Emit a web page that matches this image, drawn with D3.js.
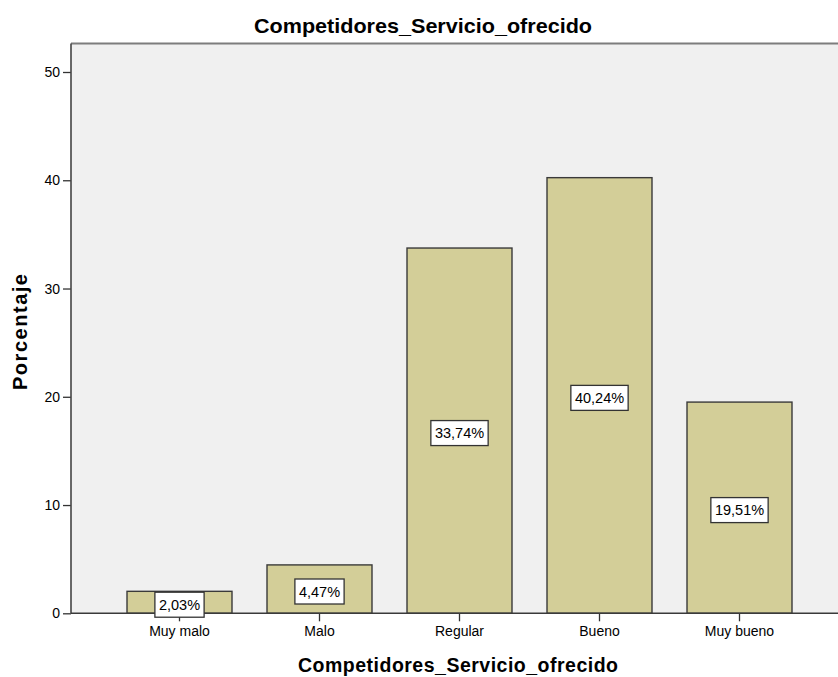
<!DOCTYPE html>
<html>
<head>
<meta charset="utf-8">
<script src="https://cdn.jsdelivr.net/npm/d3@7"></script>
<style>
  html, body { margin: 0; padding: 0; background: #ffffff; }
  svg { display: block; }
  text { font-family: "Liberation Sans", Arial, sans-serif; fill: #000; }
</style>
</head>
<body>
<div id="chart"></div>
<script>
// Distribution of responses (percent of respondents)
const categories = ["Muy malo", "Malo", "Regular", "Bueno", "Muy bueno"];
const percentages = [2.03, 4.47, 33.74, 40.24, 19.51];
const yTicks = [0, 10, 20, 30, 40, 50];
const chartTitle = "Competidores_Servicio_ofrecido";
const xTitle = "Competidores_Servicio_ofrecido";
const yTitle = "Porcentaje";

const W = 838, H = 677;
const plot = { left: 71, top: 43.5, right: 838, bottom: 613.3 };

const svg = d3.select("#chart").append("svg")
  .attr("width", W).attr("height", H);

const x = d3.scaleBand()
  .domain(categories)
  .range([plot.left, 848])
  .paddingInner(0.25)
  .paddingOuter(0.4);

const y = d3.scaleLinear()
  .domain([0, 50])
  .range([plot.bottom, 72]);

const fmt = v => v.toFixed(2).replace(".", ",") + "%";

// plot background
svg.append("rect")
  .attr("x", plot.left).attr("y", plot.top)
  .attr("width", plot.right - plot.left)
  .attr("height", plot.bottom - plot.top)
  .attr("fill", "#f0f0f0");

// top frame line
svg.append("line")
  .attr("x1", plot.left).attr("x2", plot.right)
  .attr("y1", plot.top).attr("y2", plot.top)
  .attr("stroke", "#7d7d7d").attr("stroke-width", 2);

// bars
const clip = svg.append("clipPath").attr("id", "plotclip")
  .append("rect")
  .attr("x", plot.left).attr("y", 0)
  .attr("width", plot.right - plot.left).attr("height", plot.bottom + 2);

const barG = svg.append("g").attr("clip-path", "url(#plotclip)");
barG.selectAll("rect.bar")
  .data(percentages)
  .join("rect")
  .attr("class", "bar")
  .attr("x", (d, i) => x(categories[i]))
  .attr("y", d => y(d))
  .attr("width", x.bandwidth())
  .attr("height", d => y(0) - y(d))
  .attr("fill", "#d3ce98")
  .attr("stroke", "#3a3a3a")
  .attr("stroke-width", 1.4);

// y axis
const yAxis = svg.append("g")
  .attr("transform", `translate(${plot.left},0)`)
  .call(d3.axisLeft(y).tickValues(yTicks).tickSize(8).tickPadding(3).tickFormat(d3.format("d")));
yAxis.select(".domain").remove();
yAxis.selectAll(".tick line").attr("stroke", "#333").attr("stroke-width", 1.3);
yAxis.selectAll(".tick text")
  .style("font-size", "14px")
  .style("font-family", "'Liberation Sans', Arial, sans-serif")
  .attr("fill", "#000");
svg.append("line")
  .attr("x1", plot.left).attr("x2", plot.left)
  .attr("y1", plot.top).attr("y2", plot.bottom)
  .attr("stroke", "#444").attr("stroke-width", 1.6);

// x axis
const xAxis = svg.append("g")
  .attr("transform", `translate(0,${plot.bottom})`)
  .call(d3.axisBottom(x).tickSize(8).tickPadding(5));
xAxis.select(".domain").remove();
xAxis.selectAll(".tick line").attr("stroke", "#333").attr("stroke-width", 1.3);
xAxis.selectAll(".tick text")
  .style("font-size", "14px")
  .style("font-family", "'Liberation Sans', Arial, sans-serif")
  .attr("fill", "#000");
svg.append("line")
  .attr("x1", plot.left).attr("x2", plot.right)
  .attr("y1", plot.bottom).attr("y2", plot.bottom)
  .attr("stroke", "#3a3a3a").attr("stroke-width", 1.6);

// value labels
const lab = svg.append("g").selectAll("g")
  .data(percentages)
  .join("g")
  .attr("transform", (d, i) =>
    `translate(${x(categories[i]) + x.bandwidth() / 2},${(y(d) + y(0)) / 2 + 2.4})`);
lab.append("text")
  .attr("text-anchor", "middle")
  .attr("dy", "0.36em")
  .style("font-size", "14.5px")
  .text(d => fmt(d));
lab.each(function() {
  const g = d3.select(this);
  const bb = g.select("text").node().getBBox();
  g.insert("rect", "text")
    .attr("x", -bb.width / 2 - 4)
    .attr("y", -12.5)
    .attr("width", bb.width + 8)
    .attr("height", 25)
    .attr("fill", "#ffffff")
    .attr("stroke", "#333")
    .attr("stroke-width", 1.3);
});

// titles
svg.append("text")
  .attr("x", 423).attr("y", 33)
  .attr("text-anchor", "middle")
  .attr("textLength", 338).attr("lengthAdjust", "spacingAndGlyphs")
  .style("font-size", "21px").style("font-weight", "bold")
  .text(chartTitle);

svg.append("text")
  .attr("x", 458).attr("y", 672)
  .attr("text-anchor", "middle")
  .attr("textLength", 320).attr("lengthAdjust", "spacing")
  .style("font-size", "19.5px").style("font-weight", "bold")
  .text(xTitle);

svg.append("text")
  .attr("transform", "translate(27,332) rotate(-90)")
  .attr("text-anchor", "middle")
  .attr("textLength", 116).attr("lengthAdjust", "spacing")
  .style("font-size", "20px").style("font-weight", "bold")
  .text(yTitle);
</script>
</body>
</html>
